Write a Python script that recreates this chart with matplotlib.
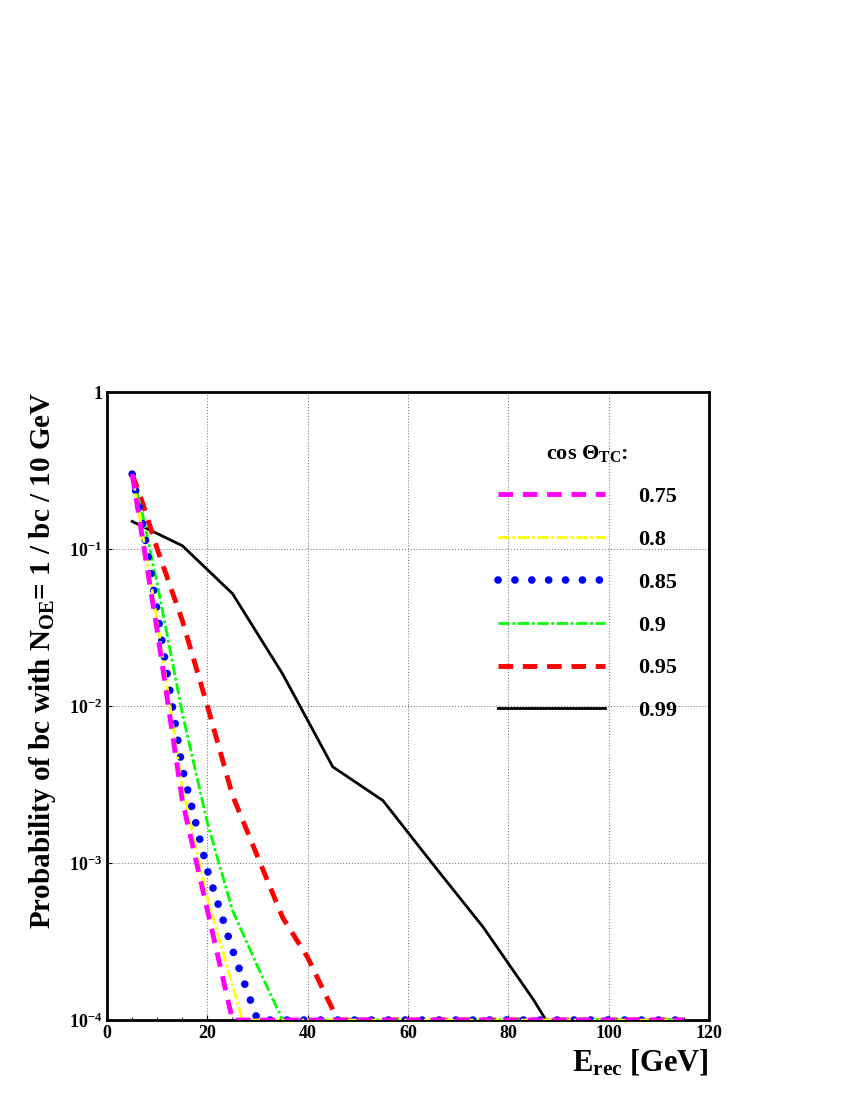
import matplotlib
matplotlib.use("Agg")
import matplotlib.pyplot as plt
import numpy as np

plt.rcParams['font.family'] = 'Liberation Serif'
plt.rcParams['mathtext.fontset'] = 'custom'
plt.rcParams['mathtext.rm'] = 'Liberation Serif:bold'
plt.rcParams['mathtext.it'] = 'Liberation Serif:bold'

labels = ["0.75", "0.8", "0.85", "0.9", "0.95", "0.99"]
e075 = [5, 7, 10, 15, 20, 25, 115]
p075 = [0.3, 0.12, 0.03, 0.0025, 0.0005, 1e-4, 1e-4]
e080 = [5, 7, 10, 15, 20, 27, 115]
p080 = [0.3, 0.13, 0.035, 0.003, 0.0006, 1e-4, 1e-4]
e085 = [5, 7, 10, 15, 20, 25, 30, 115]
p085 = [0.3, 0.15, 0.04, 0.004, 0.0009, 0.00028, 1e-4, 1e-4]
e090 = [5, 7, 10, 15, 20, 25, 30, 35, 115]
p090 = [0.3, 0.17, 0.06, 0.009, 0.0018, 0.0005, 0.00022, 1e-4, 1e-4]
e095 = [5, 7, 10, 15, 20, 25, 30, 35, 40, 46, 115]
p095 = [0.3, 0.2, 0.1, 0.035, 0.01, 0.0027, 0.0011, 0.00045, 0.00025, 1e-4, 1e-4]
e099 = [5, 15, 25, 35, 45, 55, 65, 75, 85, 87.5, 115]
p099 = [0.15, 0.105, 0.052, 0.016, 0.0041, 0.0025, 0.00098, 0.00039, 0.000135, 1e-4, 1e-4]

fig = plt.figure(figsize=(8.5, 11), dpi=100)
ax = fig.add_axes([0.126, 0.0727, 0.708, 0.5709])
ax.plot(e075, p075, color='#ff00ff', ls=(0, (3, 2)), lw=3.5, label=labels[0], zorder=8)
ax.plot(e080, p080, color='#ffff00', ls=(0, (4, 1, 1, 1)), lw=2, label=labels[1], zorder=7)
ax.plot(e085, p085, color='#0000ff', ls=(0, (0.01, 2.2)), lw=5.5, dash_capstyle='round', label=labels[2], zorder=6)
ax.plot(e090, p090, color='#00ff00', ls=(0, (4, 1, 1, 1)), lw=2, label=labels[3], zorder=5)
ax.plot(e095, p095, color='#ff0000', ls=(0, (3, 2)), lw=3.5, label=labels[4], zorder=4)
ax.plot(e099, p099, color='black', lw=2, label=labels[5], zorder=3)
ax.set_yscale('log')
ax.set_xlim(0, 120)
ax.set_ylim(1e-4, 1)
ax.set_yticks([1e-4, 1e-3, 1e-2, 1e-1, 1])
ax.set_yticklabels([r'10$^{-4}$', r'10$^{-3}$', r'10$^{-2}$', r'10$^{-1}$', '1'])
ax.yaxis.set_minor_locator(matplotlib.ticker.NullLocator())
ax.set_xticks(np.arange(0, 121, 20))
ax.set_xticks(np.arange(0, 121, 5), minor=True)
ax.tick_params(direction='in', which='both', top=False, right=False, labelsize=13)
for t in ax.get_xticklabels() + ax.get_yticklabels():
    t.set_fontweight('bold')
ax.grid(True, which='major', color='gray', ls=':', lw=0.8)
for s in ax.spines.values():
    s.set_linewidth(2)
ax.set_xlabel(r'E$_{\rm rec}$ [GeV]', fontsize=22, fontweight='bold', loc='right')
ax.set_ylabel(r'Probability of bc with N$_{\rm OE}$= 1 / bc / 10 GeV', fontsize=21, fontweight='bold',
              loc='top', labelpad=8)
leg = ax.legend(loc='upper right', bbox_to_anchor=(0.98, 0.95), frameon=False, fontsize=16,
                title=r'cos $\Theta_{\rm TC}$:', title_fontsize=16, handlelength=4.8,
                handletextpad=1.5, labelspacing=1.0, prop={'weight': 'bold', 'size': 16})
leg.get_title().set_fontweight('bold')
fig.savefig('out.png', dpi=100)
